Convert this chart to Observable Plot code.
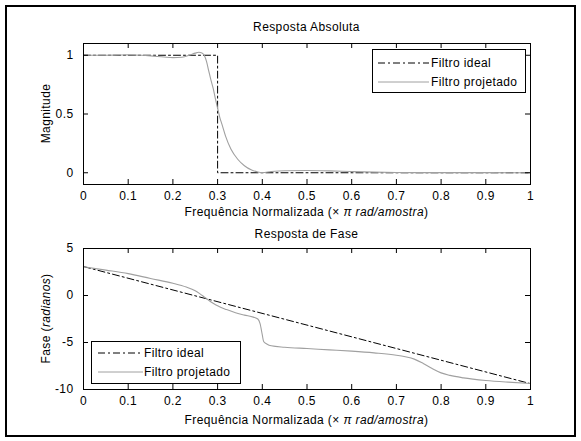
<!DOCTYPE html>
<html><head><meta charset="utf-8">
<script src="https://cdn.jsdelivr.net/npm/d3@7"></script>
<script src="https://cdn.jsdelivr.net/npm/@observablehq/plot@0.6"></script>
<style>
body{margin:0;background:#fff}
#fig{position:relative;width:581px;height:441px;font-family:"Liberation Sans",Arial,sans-serif;background:#fff}
#border{position:absolute;left:5px;top:5px;width:571px;height:432px;border:2px solid #000;box-sizing:border-box}
#fig svg.p{position:absolute;left:0}
.legend{position:absolute;background:#fff;border:1px solid #000;box-sizing:border-box}
.legend svg{display:block}
</style></head>
<body><div id="fig"><div id="border"></div></div>
<script>
// ---- data ----
const xTicks = [0, 0.1, 0.2, 0.3, 0.4, 0.5, 0.6, 0.7, 0.8, 0.9, 1];
const magTicks = [0, 0.5, 1];
const phaseTicks = [-10, -5, 0, 5];
const seriesNames = ["Filtro ideal", "Filtro projetado"];

const idealMagX = [0, 0.3, 0.3, 1];
const idealMagY = [1, 1, 0, 0];
const magX = [0, 0.02, 0.05, 0.08, 0.1, 0.13, 0.15, 0.18, 0.2, 0.22, 0.24, 0.25, 0.258, 0.265, 0.27, 0.275, 0.28, 0.285, 0.29, 0.295, 0.3, 0.305, 0.31, 0.318, 0.33, 0.345, 0.36, 0.375, 0.39, 0.4, 0.42, 0.45, 0.5, 0.55, 0.6, 0.65, 0.7, 0.75, 0.8, 0.9, 1.0];
const magY = [1.0, 1.0, 1.0, 1.002, 1.003, 1.0, 0.995, 0.985, 0.98, 0.983, 1.005, 1.018, 1.025, 1.02, 1.0, 0.95, 0.87, 0.79, 0.72, 0.63, 0.55, 0.47, 0.41, 0.31, 0.2, 0.115, 0.06, 0.025, 0.007, 0.002, 0.01, 0.017, 0.019, 0.016, 0.01, 0.005, 0.002, 0.001, 0.001, 0.001, 0.0];

const idealPhX = [0, 1];
const idealPhY = [3.08, -9.38];
const phX = [0, 0.05, 0.1, 0.15, 0.2, 0.23, 0.25, 0.26, 0.27, 0.28, 0.29, 0.3, 0.32, 0.34, 0.36, 0.38, 0.39, 0.395, 0.4, 0.403, 0.41, 0.42, 0.45, 0.5, 0.55, 0.6, 0.65, 0.7, 0.72, 0.74, 0.76, 0.78, 0.8, 0.82, 0.85, 0.9, 0.95, 1.0];
const phY = [3.05, 2.7, 2.33, 1.81, 1.31, 0.9, 0.5, 0.2, -0.15, -0.5, -0.82, -1.1, -1.5, -1.84, -2.09, -2.3, -2.5, -3.0, -4.2, -4.9, -5.15, -5.35, -5.5, -5.64, -5.78, -5.92, -6.1, -6.35, -6.52, -6.77, -7.23, -7.77, -8.23, -8.5, -8.76, -9.04, -9.22, -9.36];

// ---- styles ----
const FONT = 12, LS = "0.4px";
const gray = "#a0a0a0";
const dash = "7,3,2,3";
const zip = (xs, ys) => xs.map((x, i) => ({x, y: ys[i]}));

const fig = document.getElementById("fig");

function panel({top, height, mt, mb, ydomain, yticks, ideal, designed, title, titleDy, xlabDy, ylab}) {
  const ml = 83, mr = 51, W = 581;
  const fw = W - ml - mr, fh = height - mt - mb, tl = 5;
  const svg = Plot.plot({
    width: W, height, marginLeft: ml, marginRight: mr, marginTop: mt, marginBottom: mb,
    style: {fontFamily: '"Liberation Sans", Arial, sans-serif', fontSize: FONT + "px", background: "transparent", letterSpacing: LS},
    x: {domain: [0, 1]},
    y: {domain: ydomain},
    marks: [
      Plot.line(ideal, {x: "x", y: "y", stroke: "#000", strokeWidth: 1, strokeDasharray: dash}),
      Plot.line(designed, {x: "x", y: "y", stroke: gray, strokeWidth: 1.1, curve: "monotone-x"}),
      Plot.frame({stroke: "#000", strokeWidth: 1}),
      Plot.tickX(xTicks, {x: d => d, insetTop: fh - tl, stroke: "#000"}),
      Plot.tickX(xTicks, {x: d => d, insetBottom: fh - tl, stroke: "#000"}),
      Plot.tickY(yticks, {y: d => d, insetRight: fw - tl, stroke: "#000"}),
      Plot.tickY(yticks, {y: d => d, insetLeft: fw - tl, stroke: "#000"}),
      Plot.axisX(xTicks, {tickSize: 0, tickPadding: 7, tickFormat: d => String(d), fill: "#000", label: null}),
      Plot.axisY(yticks, {tickSize: 0, tickPadding: 10, tickFormat: d => String(d), fill: "#000", label: null})
    ]
  });
  svg.classList.add("p");
  svg.style.top = top + "px";
  const s = d3.select(svg);
  const cx = ml + fw / 2;
  s.append("text").attr("x", cx).attr("y", mt - titleDy).attr("text-anchor", "middle")
    .attr("fill", "#000").text(title);
  const xl = s.append("text").attr("x", cx).attr("y", height - mb + xlabDy).attr("text-anchor", "middle").attr("fill", "#000");
  xl.append("tspan").text("Frequência Normalizada (");
  xl.append("tspan").text("× ");
  xl.append("tspan").attr("font-style", "italic").text("π rad/amostra");
  xl.append("tspan").text(")");
  const yl = s.append("text").attr("transform", `translate(50,${mt + fh / 2}) rotate(-90)`)
    .attr("text-anchor", "middle").attr("fill", "#000");
  ylab(yl);
  fig.appendChild(svg);
}

function legend({left, top, w, h, sx0, sx1, tx, rows}) {
  const div = document.createElement("div");
  div.className = "legend";
  Object.assign(div.style, {left: left + "px", top: top + "px", width: w + "px", height: h + "px"});
  const s = d3.select(div).append("svg").attr("width", w - 2).attr("height", h - 2)
    .style("font-family", '"Liberation Sans", Arial, sans-serif').style("font-size", FONT + "px").style("letter-spacing", LS);
  seriesNames.forEach((name, i) => {
    const y = rows[i];
    s.append("line").attr("x1", sx0).attr("x2", sx1).attr("y1", y).attr("y2", y)
      .attr("stroke", i === 0 ? "#000" : gray).attr("stroke-width", 1)
      .attr("stroke-dasharray", i === 0 ? dash : null);
    s.append("text").attr("x", tx).attr("y", y).attr("dy", "0.36em").attr("fill", "#000").text(name);
  });
  fig.appendChild(div);
}

panel({top: 0, height: 220, mt: 43, mb: 36, ydomain: [-0.1, 1.1], yticks: magTicks,
  ideal: zip(idealMagX, idealMagY), designed: zip(magX, magY),
  title: "Resposta Absoluta", titleDy: 12, xlabDy: 32,
  ylab: t => t.text("Magnitude")});
panel({top: 220, height: 221, mt: 28, mb: 52, ydomain: [-10, 5], yticks: phaseTicks,
  ideal: zip(idealPhX, idealPhY), designed: zip(phX, phY),
  title: "Resposta de Fase", titleDy: 10, xlabDy: 35,
  ylab: t => { t.append("tspan").text("Fase ("); t.append("tspan").attr("font-style", "italic").text("radianos"); t.append("tspan").text(")"); }});

legend({left: 372, top: 49, w: 154, h: 44, sx0: 5, sx1: 56, tx: 58, rows: [13, 32]});
legend({left: 91, top: 341, w: 150, h: 43, sx0: 6, sx1: 51, tx: 52, rows: [11, 30]});
</script></body></html>
